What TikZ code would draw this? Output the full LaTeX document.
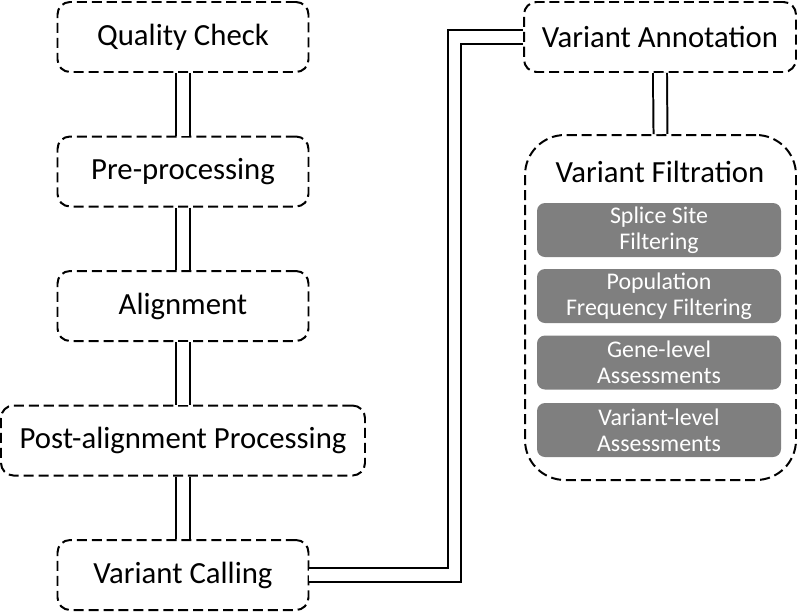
\documentclass[tikz,border=0pt]{standalone}
\usepackage{fontspec}
\setmainfont{Carlito}
\usetikzlibrary{positioning,calc}
\definecolor{boxgrey}{RGB}{127,127,127}
\tikzset{
    on grid,
    node distance=2.69cm,
    stage/.style = {
        draw,
        shape=rectangle,
        rounded corners=0.25cm,
        minimum height=1.4cm,
        minimum width=5.02cm,
        line width=1.13pt,
        dash pattern=on 5.7pt off 2.8pt,
        font=\fontsize{17.5}{21}\selectfont
    },
    filtration/.style = {
        draw,
        shape=rectangle,
        rounded corners=0.8cm,
        minimum height=6.9cm,
        minimum width=5.42cm,
        line width=1.13pt,
        dash pattern=on 5.7pt off 2.8pt
    },
    criterion/.style = {
        shape=rectangle,
        rounded corners=0.16cm,
        fill=boxgrey,
        text=white,
        align=center,
        minimum height=1.08cm,
        minimum width=4.88cm,
        inner sep=0pt,
        font=\fontsize{13.6}{15}\selectfont
    },
    link/.style = {
        line width=1.13pt,
        double,
        double distance=6.8pt
    }
}

\begin{document}
\begin{tikzpicture}
            \useasboundingbox (0,0) rectangle (15.94,-12.26);

            \node[stage] (qc) at (3.66,-0.74) {Quality Check};
            \node[stage, below=of qc] (prep) {Pre-processing};
            \node[stage, below=of prep] (align) {Alignment};
            \node[stage, below=of align, minimum width=7.28cm] (postalign) {Post-alignment Processing};
            \node[stage, below=of postalign] (calling) {Variant Calling};

            \node[stage, minimum width=5.44cm] (annot) at (13.2,-0.74) {Variant Annotation};
            \node[filtration] (filt) at (13.21,-6.15) {};
            \node[font=\fontsize{17.5}{21}\selectfont] (filttitle) at (13.2,-3.44) {Variant Filtration};
            \node[criterion] (splice) at (13.18,-4.6) {Splice Site\\Filtering};
            \node[criterion] (popfreq) at (13.18,-5.92) {Population\\Frequency Filtering};
            \node[criterion] (genelvl) at (13.18,-7.25) {Gene-level\\Assessments};
            \node[criterion] (varlvl) at (13.18,-8.6) {Variant-level\\Assessments};

            \coordinate (bend) at (9.09,-6);

            \path[draw, link] (qc.south) -- (prep.north);
            \path[draw, link] (prep.south) -- (align.north);
            \path[draw, link] (align.south) -- (postalign.north);
            \path[draw, link] (postalign.south) -- (calling.north);
            \path[draw, link] (calling.east) -| (bend) |- (annot.west);
            \path[draw, link] (annot.south) -- (filt.north);

        \end{tikzpicture}
\end{document}
